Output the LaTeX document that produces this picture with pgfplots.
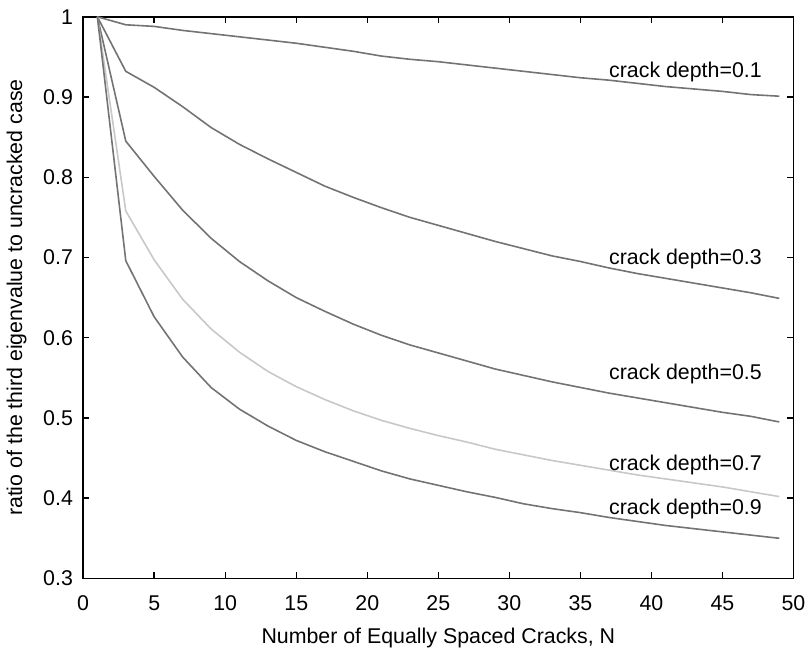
\documentclass[border=0pt]{standalone}
\usepackage{fontspec}
\setmainfont{Liberation Sans}
\usepackage{pgfplots}
\pgfplotsset{compat=1.18}
\definecolor{curve}{RGB}{115,115,115}
\definecolor{lightcurve}{RGB}{200,200,200}
\newcommand{\lbl}{\fontsize{10.7}{12.8}\selectfont}

\begin{document}
\begin{tikzpicture}
\begin{axis}[
    scale only axis,
    width=356pt, height=281.5pt,
    xmin=0, xmax=50, ymin=0.3, ymax=1,
    xtick={0,5,...,50},
    ytick={0.3,0.4,...,1.0},
    yticklabel style={/pgf/number format/fixed, /pgf/number format/precision=1, xshift=-1.6pt},
    xticklabel style={yshift=-5pt},
    /pgf/number format/assume math mode=true,
    tick align=inside,
    major tick length=3pt,
    tick style={black, line width=0.7pt},
    axis line style={black, line width=0.9pt},
    ticklabel style={font=\lbl},
    xlabel={Number of Equally Spaced Cracks, N},
    ylabel={ratio of the third eigenvalue to uncracked case},
    label style={font=\lbl},
    xlabel style={yshift=-2pt},
    ylabel style={yshift=1.5pt},
    every axis plot/.append style={line width=0.8pt, no marks},
    clip=false,
]
\addplot[curve] coordinates {
(1,1.000)(3,0.990)(5,0.988)(7,0.983)(9,0.979)(11,0.975)(13,0.971)(15,0.967)
(17,0.962)(19,0.957)(21,0.951)(23,0.947)(25,0.944)(27,0.940)(29,0.936)(31,0.932)
(33,0.928)(35,0.924)(37,0.921)(39,0.917)(41,0.913)(43,0.910)(45,0.907)(47,0.903)(49,0.901)};
\addplot[curve] coordinates {
(1,1.000)(3,0.932)(5,0.912)(7,0.888)(9,0.862)(11,0.841)(13,0.823)(15,0.806)
(17,0.789)(19,0.775)(21,0.762)(23,0.750)(25,0.740)(27,0.730)(29,0.720)(31,0.711)
(33,0.702)(35,0.695)(37,0.687)(39,0.680)(41,0.674)(43,0.668)(45,0.662)(47,0.656)(49,0.649)};
\addplot[curve] coordinates {
(1,1.000)(3,0.845)(5,0.801)(7,0.759)(9,0.724)(11,0.695)(13,0.671)(15,0.650)
(17,0.633)(19,0.617)(21,0.603)(23,0.591)(25,0.581)(27,0.571)(29,0.561)(31,0.553)
(33,0.545)(35,0.538)(37,0.531)(39,0.525)(41,0.519)(43,0.513)(45,0.507)(47,0.502)(49,0.495)};
\addplot[lightcurve] coordinates {
(1,1.000)(3,0.758)(5,0.697)(7,0.648)(9,0.611)(11,0.582)(13,0.558)(15,0.539)
(17,0.523)(19,0.509)(21,0.497)(23,0.487)(25,0.478)(27,0.470)(29,0.461)(31,0.454)
(33,0.447)(35,0.441)(37,0.435)(39,0.429)(41,0.424)(43,0.419)(45,0.414)(47,0.408)(49,0.402)};
\addplot[curve] coordinates {
(1,1.000)(3,0.696)(5,0.626)(7,0.576)(9,0.538)(11,0.511)(13,0.490)(15,0.472)
(17,0.458)(19,0.446)(21,0.434)(23,0.424)(25,0.416)(27,0.408)(29,0.401)(31,0.393)
(33,0.387)(35,0.382)(37,0.376)(39,0.371)(41,0.366)(43,0.362)(45,0.358)(47,0.354)(49,0.350)};
\node[anchor=west, inner sep=0pt, font=\lbl] at (axis cs:37.0,0.931) {crack depth=0.1};
\node[anchor=west, inner sep=0pt, font=\lbl] at (axis cs:37.0,0.698) {crack depth=0.3};
\node[anchor=west, inner sep=0pt, font=\lbl] at (axis cs:37.0,0.555) {crack depth=0.5};
\node[anchor=west, inner sep=0pt, font=\lbl] at (axis cs:37.0,0.441) {crack depth=0.7};
\node[anchor=west, inner sep=0pt, font=\lbl] at (axis cs:37.0,0.387) {crack depth=0.9};
\end{axis}
\path ([yshift=8.4pt]current axis.north west);
\end{tikzpicture}
\end{document}
